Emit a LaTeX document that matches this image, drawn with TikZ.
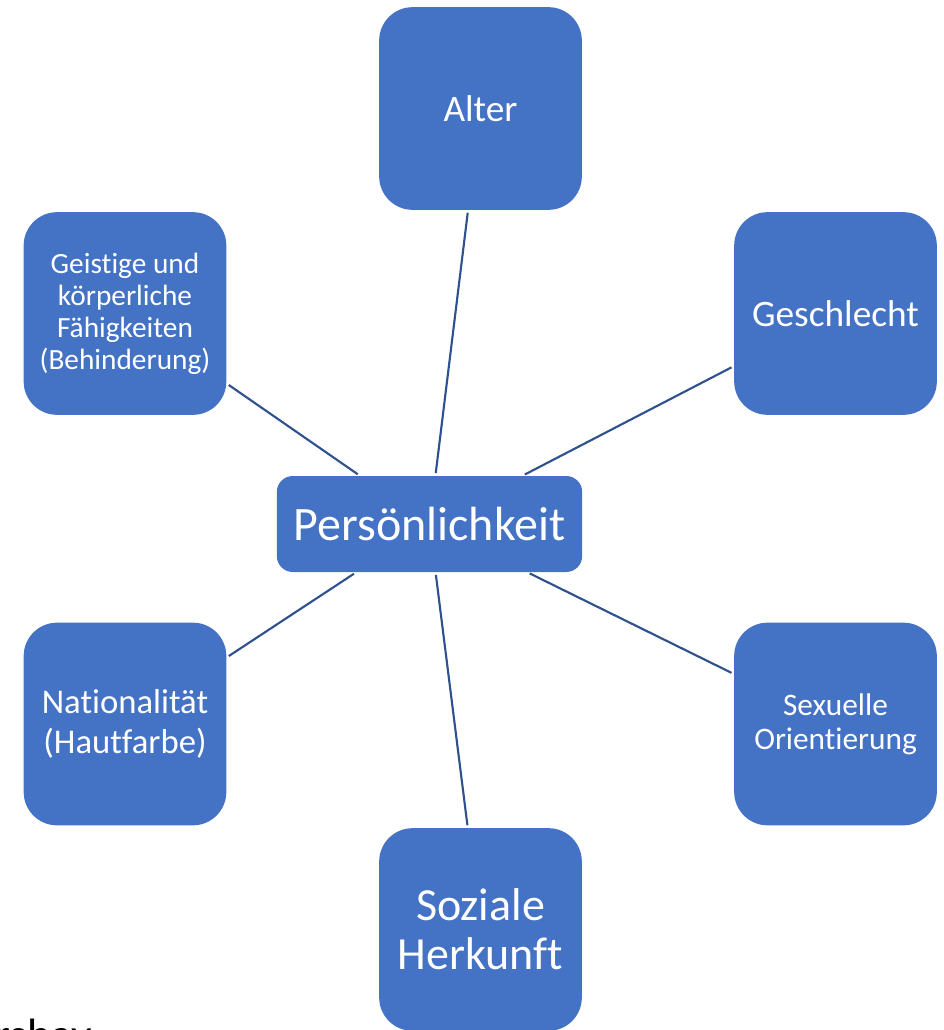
\documentclass[tikz,border=0pt]{standalone}
\usepackage{fontspec}
\setmainfont{Carlito}[RawFeature={-liga;-clig;-dlig;-calt;-hlig}]
\usepackage{xcolor}
\usepackage{tikz}
\usetikzlibrary{positioning, calc}

\definecolor{boxblue}{HTML}{4472C4}
\definecolor{lineblue}{HTML}{2F528F}

\begin{document}
\begin{tikzpicture}[x=0.75pt, y=-0.75pt,
  factor/.style={fill=boxblue, text=white, rounded corners=25pt,
    minimum width=152pt, minimum height=152pt, inner sep=0pt, align=center},
  core/.style={fill=boxblue, text=white, rounded corners=12pt,
    minimum width=229pt, minimum height=72pt, inner sep=0pt,
    font=\fontsize{36}{40}\selectfont},
  link/.style={draw=lineblue, line width=1.6pt, shorten <=2pt, shorten >=2pt}]

\useasboundingbox (0,0) rectangle (943,1030);

% -- Centre -----------------------------------------------------------------
\node[core] (pers) at (429.5,524) {Persönlichkeit};

% -- Surrounding factors ----------------------------------------------------
\node[factor, font=\fontsize{28}{32}\selectfont] (alter) at (480.5,108.5) {Alter};
\node[factor, font=\fontsize{28}{32}\selectfont] (geschlecht) at (835.5,313.5) {Geschlecht};
\node[factor, font=\fontsize{22}{24}\selectfont] (geistig) at (125,313.5)
  {Geistige und\\körperliche\\Fähigkeiten\\(Behinderung)};
\node[factor, font=\fontsize{26}{30}\selectfont] (nation) at (125,724)
  {Nationalität\\(Hautfarbe)};
\node[factor, font=\fontsize{23.5}{25.5}\selectfont] (sexuell) at (835.5,724)
  {Sexuelle\\Orientierung};
\node[factor, font=\fontsize{34.5}{37}\selectfont] (sozial) at (480.5,929.5)
  {Soziale\\Herkunft};

% -- Connectors -------------------------------------------------------------
\draw[link] (pers) -- (alter);
\draw[link] (pers) -- (geschlecht);
\draw[link] (pers) -- (geistig);
\draw[link] (pers) -- (nation);
\draw[link] (pers) -- (sexuell);
\draw[link] (pers) -- (sozial);

% cut-off text at the lower edge
\node[anchor=base west, inner sep=0pt, font=\fontsize{34}{36}\selectfont] (rest) at (-6,1050) {rshav};

\end{tikzpicture}
\end{document}
